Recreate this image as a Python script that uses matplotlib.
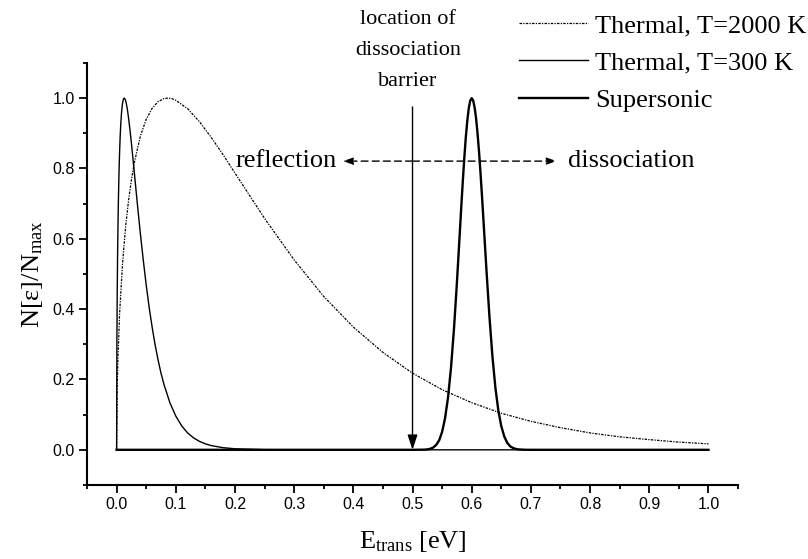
import matplotlib
matplotlib.use("Agg")
import matplotlib.pyplot as plt

plt.rcParams['font.family'] = ['Liberation Serif', 'DejaVu Serif']
plt.rcParams['mathtext.fontset'] = 'custom'
plt.rcParams['mathtext.rm'] = 'Liberation Serif'
plt.rcParams['mathtext.it'] = 'Liberation Serif:italic'

# Thermal beam, T = 2000 K (normalised to peak)
e_2000 = [0.000, 0.001, 0.002, 0.005, 0.010, 0.015, 0.020, 0.025, 0.030, 0.040,
          0.050, 0.060, 0.070, 0.080, 0.086, 0.093, 0.100, 0.120, 0.140, 0.160,
          0.180, 0.200, 0.250, 0.300, 0.350, 0.400, 0.450, 0.500, 0.550, 0.600,
          0.650, 0.700, 0.750, 0.800, 0.850, 0.900, 0.950, 1.000]
n_2000 = [0.000, 0.177, 0.248, 0.386, 0.530, 0.631, 0.707, 0.768, 0.817, 0.891,
          0.940, 0.971, 0.990, 0.999, 1.000, 0.999, 0.994, 0.970, 0.933, 0.888,
          0.839, 0.787, 0.658, 0.540, 0.436, 0.349, 0.277, 0.218, 0.171, 0.134,
          0.104, 0.081, 0.063, 0.048, 0.037, 0.029, 0.022, 0.017]

# Thermal beam, T = 300 K
e_300 = [0.000, 0.0005, 0.001, 0.0015, 0.002, 0.0025, 0.003, 0.004, 0.005, 0.006,
         0.007, 0.008, 0.009, 0.010, 0.011, 0.012, 0.013, 0.014, 0.015, 0.016,
         0.018, 0.020, 0.0225, 0.025, 0.0275, 0.030, 0.035, 0.040, 0.045, 0.050,
         0.055, 0.060, 0.065, 0.070, 0.075, 0.080, 0.090, 0.100, 0.110, 0.120,
         0.130, 0.140, 0.150, 0.160, 0.180, 0.200, 0.250, 0.300, 1.000]
n_300 = [0.000, 0.318, 0.441, 0.530, 0.600, 0.658, 0.707, 0.786, 0.845, 0.891,
         0.926, 0.952, 0.971, 0.985, 0.994, 0.999, 1.000, 0.998, 0.994, 0.988,
         0.970, 0.946, 0.911, 0.872, 0.830, 0.787, 0.700, 0.617, 0.540, 0.469,
         0.405, 0.349, 0.299, 0.256, 0.218, 0.186, 0.134, 0.096, 0.068, 0.048,
         0.034, 0.024, 0.017, 0.012, 0.006, 0.003, 0.0005, 0.000, 0.000]

# Supersonic beam
e_sup = [0.000, 0.500, 0.520, 0.525, 0.530, 0.535, 0.540, 0.545, 0.550, 0.555,
         0.560, 0.565, 0.570, 0.575, 0.580, 0.5825, 0.585, 0.5875, 0.590, 0.5925,
         0.595, 0.5975, 0.600, 0.6025, 0.605, 0.6075, 0.610, 0.6125, 0.615, 0.6175,
         0.620, 0.625, 0.630, 0.635, 0.640, 0.645, 0.650, 0.655, 0.660, 0.665,
         0.670, 0.675, 0.680, 0.690, 0.700, 1.000]
n_sup = [0.000, 0.000, 0.0005, 0.0012, 0.0029, 0.0066, 0.014, 0.027, 0.051, 0.090,
         0.149, 0.233, 0.343, 0.475, 0.621, 0.695, 0.765, 0.830, 0.888, 0.935,
         0.971, 0.993, 1.000, 0.993, 0.973, 0.941, 0.897, 0.845, 0.784, 0.718,
         0.649, 0.509, 0.378, 0.266, 0.177, 0.112, 0.067, 0.038, 0.020, 0.010,
         0.005, 0.0023, 0.001, 0.0002, 0.000, 0.000]

x_ticks = [0.0, 0.1, 0.2, 0.3, 0.4, 0.5, 0.6, 0.7, 0.8, 0.9, 1.0]
y_ticks = [0.0, 0.2, 0.4, 0.6, 0.8, 1.0]
barrier = 0.5

fig = plt.figure(figsize=(8.08, 5.59), dpi=100)
ax = fig.add_axes([0.1077, 0.1324, 0.8057, 0.7549])

l1, = ax.plot(e_2000, n_2000, color='black', lw=0.9, ls=(0, (2, 1, 1, 1)))
l2, = ax.plot(e_300, n_300, color='black', lw=1.0)
l3, = ax.plot(e_sup, n_sup, color='black', lw=1.7)

ax.set_xlim(-0.05, 1.05)
ax.set_ylim(-0.1, 1.1)
ax.set_xticks(x_ticks)
ax.set_xticklabels([f"{v:.1f}" for v in x_ticks])
ax.set_yticks(y_ticks)
ax.set_yticklabels([f"{v:.1f}" for v in y_ticks])
ax.set_xticks([-0.05 + 0.1 * i for i in range(12)], minor=True)
ax.set_yticks([-0.1 + 0.2 * i for i in range(7)], minor=True)

for side in ['top', 'right']:
    ax.spines[side].set_visible(False)
for side in ['left', 'bottom']:
    ax.spines[side].set_linewidth(1.5)

ax.tick_params(which='major', direction='out', length=6, width=1.3, pad=3)
ax.tick_params(which='minor', direction='out', length=3.2, width=1.3)
for lab in ax.get_xticklabels() + ax.get_yticklabels():
    lab.set_family('Liberation Sans')
    lab.set_fontsize(11.5)

ax.set_xlabel(r'E$_{\mathrm{trans}}$ [eV]', fontsize=19, labelpad=12)
ax.set_ylabel(r'N[ε]/N$_{\mathrm{max}}$', fontsize=19, labelpad=5)

# barrier marker and direction arrows
ax.annotate('', xy=(barrier, 0.0), xytext=(barrier, 0.975),
            arrowprops=dict(arrowstyle='-|>,head_length=0.9,head_width=0.3',
                            color='black', lw=1.0, shrinkA=0, shrinkB=0))
for end in (0.382, 0.744):
    ax.annotate('', xy=(end, 0.821), xytext=(barrier, 0.821),
                arrowprops=dict(arrowstyle='-|>,head_length=0.6,head_width=0.2',
                                color='black', lw=1.0, ls=(0, (5, 3)),
                                shrinkA=0, shrinkB=0))

ax.text(0.372, 0.821, 'reflection', fontsize=19, ha='right', va='center')
ax.text(0.762, 0.821, 'dissociation', fontsize=19, ha='left', va='center')
ax.text(0.492, 1.135, 'location of\ndissociation\nbarrier', fontsize=16,
        ha='center', va='center', linespacing=1.85, clip_on=False)

fig.legend([l1, l2, l3],
           ['Thermal, T=2000 K', 'Thermal, T=300 K', 'Supersonic'],
           loc='upper right', bbox_to_anchor=(0.998, 0.975),
           frameon=False, fontsize=19, handlelength=2.6,
           handletextpad=0.27, labelspacing=0.52, borderpad=0,
           borderaxespad=0)

fig.savefig('out.png', dpi=100)
